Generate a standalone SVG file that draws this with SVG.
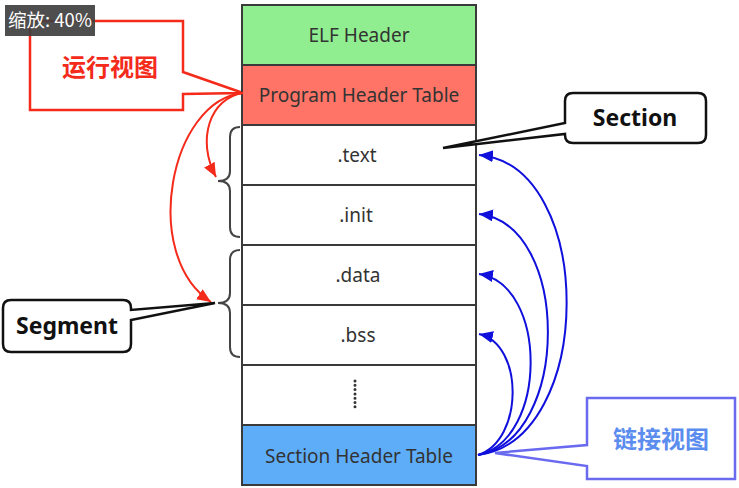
<svg xmlns="http://www.w3.org/2000/svg" width="739" height="488" viewBox="0 0 739 488">
<style>
.cell{stroke:#3a3a3a;stroke-width:2}
.ct{font-family:"Noto Sans","Open Sans","Noto Sans CJK SC",sans-serif;font-size:19px;fill:#333;text-anchor:middle}
.brace{fill:none;stroke:#444;stroke-width:2}
.red{fill:none;stroke:#F42A1A;stroke-width:2}
.blue{fill:none;stroke:#1010DD;stroke-width:2}
.call{fill:#fff;stroke:#111;stroke-width:2.5}
.ctb{font-family:"Noto Sans","Noto Sans CJK SC",sans-serif;font-size:23px;font-weight:bold;fill:#111;text-anchor:middle}
.cjk{font-family:"Noto Sans CJK SC","Noto Sans",sans-serif;font-size:24px;font-weight:bold;text-anchor:middle}
</style>
<defs>
<marker id="ar" markerUnits="userSpaceOnUse" markerWidth="16" markerHeight="14" refX="14" refY="6" orient="auto">
<path d="M0,0 L14,6 L0,12 Z" fill="#F42A1A"/>
</marker>
<marker id="ab" markerUnits="userSpaceOnUse" markerWidth="16" markerHeight="14" refX="14" refY="6" orient="auto">
<path d="M0,0 L14,6 L0,12 Z" fill="#1010DD"/>
</marker>
</defs>
<rect width="739" height="488" fill="#fff"/>

<g id="callout-run">
<path d="M30,21 L183,21 L183,72 L243,93 L183,94 L183,110 L30,110 Z" fill="#fff" stroke="#F42A1A" stroke-width="2.5"/>
<text x="110" y="76" class="cjk" fill="#F42A1A">运行视图</text>
</g>

<g id="table">
<g id="elf-header"><rect x="242" y="5" width="234" height="60" fill="#90EE90" class="cell"/><text x="359" y="42" class="ct">ELF Header</text></g>
<g id="program-header-table"><rect x="242" y="65" width="234" height="60" fill="#FF7466" class="cell"/><text x="359" y="102" class="ct">Program Header Table</text></g>
<g id="text"><rect x="242" y="125" width="234" height="60" fill="#fff" class="cell"/><text x="357" y="162" class="ct">.text</text></g>
<g id="init"><rect x="242" y="185" width="234" height="60" fill="#fff" class="cell"/><text x="356" y="222" class="ct">.init</text></g>
<g id="data"><rect x="242" y="245" width="234" height="60" fill="#fff" class="cell"/><text x="358" y="282" class="ct">.data</text></g>
<g id="bss"><rect x="242" y="305" width="234" height="60" fill="#fff" class="cell"/><text x="358" y="342" class="ct">.bss</text></g>
<g id="more"><rect x="242" y="365" width="234" height="60" fill="#fff" class="cell"/>
<line x1="355" y1="381" x2="355" y2="411" stroke="#333" stroke-width="3" stroke-linecap="round" stroke-dasharray="0 4.3"/></g>
<g id="section-header-table"><rect x="242" y="425" width="234" height="60" fill="#5EADF9" class="cell"/><text x="359" y="463" class="ct">Section Header Table</text></g>
</g>

<g id="braces">
<path class="brace" d="M240,127 Q230,127 230,137 L230,171 Q230,181 218,181 Q230,181 230,191 L230,227 Q230,237 240,237"/>
<path class="brace" d="M240,250 Q230,250 230,260 L230,293 Q230,303 218,303 Q230,303 230,313 L230,347 Q230,357 240,357"/>
</g>

<g id="connectors">
<path class="red" marker-end="url(#ar)" d="M243,93 C210,98 196,140 216,177"/>
<path class="red" marker-end="url(#ar)" d="M243,93 C170,100 140,255 211,302"/>
<path class="blue" marker-end="url(#ab)" d="M478,455 C596,440 596,165 479,155"/>
<path class="blue" marker-end="url(#ab)" d="M478,455 C571,440 571,224 479,214"/>
<path class="blue" marker-end="url(#ab)" d="M478,455 C548,440 548,284 479,274"/>
<path class="blue" marker-end="url(#ab)" d="M478,455 C524,440 524,344 479,334"/>
</g>

<g id="callout-segment">
<path class="call" d="M11,300 L123,300 Q131,300 131,308 L131,310 L215,303 L131,320 L131,344 Q131,352 123,352 L11,352 Q3,352 3,344 L3,308 Q3,300 11,300 Z"/>
<text x="67" y="334" class="ctb">Segment</text>
</g>

<g id="callout-section">
<path class="call" d="M573,93 L698,93 Q706,93 706,101 L706,135 Q706,143 698,143 L573,143 Q565,143 565,135 L565,134 L443,148 L565,123 L565,101 Q565,93 573,93 Z"/>
<text x="635" y="126" class="ctb">Section</text>
</g>

<g id="callout-link">
<path d="M587,398 L735,398 L735,479 L587,479 L587,466 L495,453 L587,445 Z" fill="#fff" stroke="#6A6AF0" stroke-width="2.5"/>
<text x="661" y="448" class="cjk" fill="#5B8DEF">链接视图</text>
</g>

<g id="zoom-label">
<rect x="5" y="5" width="90" height="31" fill="#3f3f3f" opacity="0.92"/>
<text x="50" y="27" font-family="'Noto Sans CJK SC','Noto Sans',sans-serif" font-size="18.5" fill="#fff" text-anchor="middle">缩放: 40%</text>
</g>
</svg>
